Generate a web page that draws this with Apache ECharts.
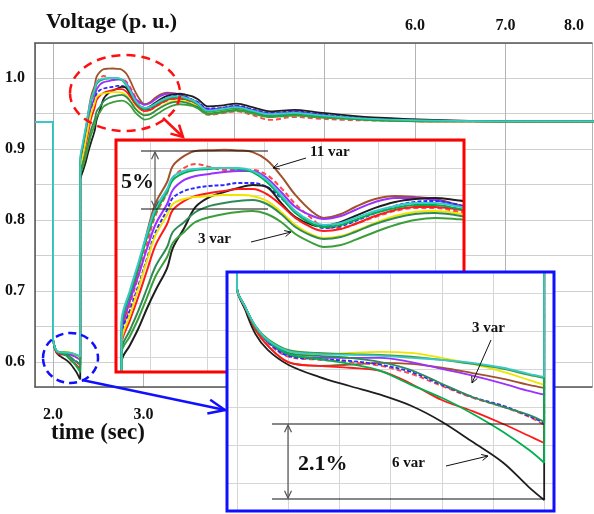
<!DOCTYPE html>
<html><head><meta charset="utf-8">
<script src="https://cdn.jsdelivr.net/npm/echarts@6/dist/echarts.min.js"></script>
<style>html,body{margin:0;padding:0;background:#fff}#c{width:594px;height:514px}</style>
</head><body><div id="c"></div>
<script>
// ---------------- data ----------------
const time = [1.80, 2.00,
  2.000, 2.008, 2.018, 2.030, 2.050, 2.080, 2.110, 2.140, 2.170, 2.200, 2.230, 2.260, 2.285, 2.300,
  2.30, 2.33, 2.36, 2.39, 2.42, 2.46, 2.48, 2.52, 2.56, 2.61, 2.66, 2.71, 2.76, 2.81, 2.86, 2.91, 2.97, 3.01, 3.07, 3.12, 3.19, 3.26, 3.33, 3.40, 3.47, 3.54,
  3.60, 3.71, 3.85, 4.03, 4.20, 4.40, 4.67, 4.90, 5.20, 5.60, 6.20, 7.00, 8.00];

const vBrown = [0.938, 0.938,
  .6313,.6261,.6203,.6161,.6118,.6108,.6111,.6116,.6113,.6103,.6089,.6074,.6058,.6050,
  .8756,.9022,.9259,.9526,.9741,.9896,1.0015,1.0089,1.0126,1.0131,1.0134,1.0130,1.0117,1.0059,.9941,.9800,.9674,.9630,.9659,.9711,.9770,.9793,.9785,.9770,.9733,.9689,
  .965,.955,.957,.960,.955,.950,.952,.949,.945,.942,.940,.939,.939];
const vRedDash = [0.938, 0.938,
  .6313,.6263,.6208,.6168,.6132,.6124,.6118,.6108,.6087,.6055,.6024,.6000,.5974,.5953,
  .8726,.8985,.9207,.9444,.9652,.9815,.9926,1.0000,1.0030,1.0007,.9985,.9985,.9985,.9948,.9852,.9733,.9622,.9563,.9556,.9585,.9637,.9681,.9704,.9704,.9681,.9652,
  .959,.948,.950,.953,.948,.941,.945,.943,.941,.940,.939,.939,.939];
const vPurple = [0.938, 0.938,
  .6313,.6263,.6211,.6171,.6137,.6129,.6129,.6129,.6118,.6100,.6082,.6061,.6042,.6032,
  .8800,.9022,.9207,.9407,.9585,.9733,.9837,.9911,.9941,.9956,.9970,.9978,.9978,.9926,.9822,.9711,.9644,.9622,.9644,.9689,.9748,.9778,.9778,.9763,.9726,.9689,
  .965,.956,.957,.960,.955,.950,.952,.949,.945,.942,.940,.939,.939];
const vBlueDash = [0.938, 0.938,
  .6313,.6263,.6211,.6171,.6134,.6126,.6121,.6111,.6092,.6058,.6026,.6003,.5976,.5958,
  .8763,.8948,.9133,.9333,.9526,.9689,.9778,.9830,.9852,.9867,.9874,.9889,.9889,.9859,.9778,.9674,.9585,.9556,.9570,.9607,.9667,.9719,.9748,.9756,.9733,.9696,
  .966,.957,.958,.961,.956,.951,.953,.950,.946,.943,.940,.939,.939];
const vBlack = [0.938, 0.938,
  .6313,.6255,.6192,.6150,.6111,.6079,.6055,.6032,.6003,.5961,.5908,.5853,.5789,.5755,
  .8563,.8689,.8815,.8963,.9096,.9259,.9407,.9556,.9711,.9785,.9822,.9852,.9874,.9859,.9741,.9637,.9578,.9570,.9600,.9644,.9704,.9748,.9770,.9778,.9763,.9741,
  .970,.960,.961,.964,.959,.953,.955,.952,.948,.944,.941,.939,.939];
const vRed = [0.938, 0.938,
  .6313,.6261,.6205,.6161,.6118,.6108,.6103,.6095,.6061,.6018,.5989,.5955,.5924,.5905,
  .8689,.8874,.9052,.9244,.9430,.9585,.9689,.9756,.9793,.9815,.9830,.9844,.9844,.9807,.9726,.9630,.9556,.9533,.9548,.9585,.9644,.9689,.9711,.9711,.9696,.9667,
  .962,.952,.954,.957,.952,.947,.949,.946,.944,.941,.939,.939,.939];
const vYellow = [0.938, 0.938,
  .6313,.6263,.6211,.6174,.6145,.6137,.6142,.6145,.6142,.6129,.6113,.6092,.6071,.6058,
  .8711,.8911,.9111,.9319,.9504,.9652,.9733,.9770,.9785,.9793,.9800,.9800,.9793,.9756,.9674,.9578,.9504,.9481,.9496,.9533,.9593,.9644,.9674,.9681,.9667,.9637,
  .960,.951,.953,.956,.951,.946,.948,.946,.943,.941,.939,.939,.939];
const vDarkGreen = [0.938, 0.938,
  .6313,.6263,.6211,.6174,.6142,.6134,.6129,.6118,.6097,.6061,.6026,.6000,.5979,.5961,
  .8652,.8800,.8948,.9111,.9274,.9415,.9526,.9600,.9674,.9719,.9741,.9756,.9763,.9733,.9659,.9563,.9496,.9474,.9489,.9526,.9585,.9630,.9659,.9667,.9652,.9622,
  .959,.950,.952,.955,.951,.946,.948,.945,.943,.941,.939,.939,.939];
const vGreen3 = [0.938, 0.938,
  .6313,.6263,.6213,.6179,.6150,.6142,.6139,.6137,.6132,.6124,.6113,.6100,.6084,.6076,
  .8630,.8756,.8889,.9044,.9200,.9341,.9444,.9526,.9600,.9637,.9659,.9674,.9681,.9659,.9600,.9511,.9444,.9415,.9430,.9467,.9526,.9578,.9615,.9630,.9622,.9607,
  .957,.949,.951,.954,.950,.945,.947,.945,.943,.940,.939,.939,.939];
const vGreen = [0.938, 0.938,
  .6313,.6263,.6211,.6174,.6139,.6126,.6113,.6095,.6058,.6024,.5982,.5934,.5887,.5853,
  .8830,.9067,.9274,.9489,.9674,.9822,.9911,.9963,.9985,.9993,1.0000,.9993,.9970,.9896,.9785,.9667,.9585,.9563,.9578,.9615,.9667,.9704,.9726,.9726,.9704,.9674,
  .963,.953,.955,.958,.953,.948,.950,.947,.944,.941,.940,.939,.939];
const vCyan = [0.938, 0.938,
  .6313,.6263,.6213,.6176,.6147,.6139,.6137,.6134,.6129,.6124,.6116,.6103,.6087,.6079,
  .8859,.9096,.9304,.9519,.9704,.9844,.9933,.9978,.9993,1.0000,1.0000,1.0000,.9978,.9911,.9800,.9681,.9600,.9578,.9593,.9630,.9681,.9719,.9741,.9741,.9719,.9689,
  .964,.954,.956,.959,.954,.949,.951,.948,.945,.942,.940,.939,.939];

const yTickLabels = ['0.6', '0.7', '0.8', '0.9', '1.0'];
const xTickLabelsBottom = ['2.0', '3.0'];
const xTickLabelsTop = ['6.0', '7.0', '8.0'];

// ---------------- styles ----------------
const SERIF = '"Liberation Serif","DejaVu Serif",serif';
const defs = [
  {vals: vBrown, color: '#a0522d'},
  {vals: vRedDash, color: '#ff4848', dash: [5, 3]},
  {vals: vPurple, color: '#9b30ff'},
  {vals: vBlueDash, color: '#2a2aff', dash: [4, 2]},
  {vals: vBlack, color: '#1e1e1e'},
  {vals: vRed, color: '#ff1a1a'},
  {vals: vYellow, color: '#f0e400'},
  {vals: vDarkGreen, color: '#2e8b57'},
  {vals: vGreen3, color: '#3a9e3a'},
  {vals: vGreen, color: '#00b050'},
  {vals: vCyan, color: '#3cc8c8'}
];
const pairs = vals => time.map((t, i) => [t, vals[i]]);
const isTenth = v => Math.abs(v * 10 - Math.round(v * 10)) < 1e-6;

const panels = [
  {xi: 0, yi: 0, z: 2, w: 1.8},
  {xi: 2, yi: 1, z: 12, w: 2.0},
  {xi: 3, yi: 2, z: 22, w: 1.8}
];
const series = [];
panels.forEach(p => defs.forEach(d => series.push({
  type: 'line', xAxisIndex: p.xi, yAxisIndex: p.yi, data: pairs(d.vals),
  showSymbol: false, smooth: 0.35, z: p.z, silent: true, animation: false,
  lineStyle: {color: d.color, width: p.w, type: d.dash || 'solid'}
})));

function head(x1, y1, x2, y2, len, ang) {
  const a = Math.atan2(y2 - y1, x2 - x1);
  return [[x2 - len * Math.cos(a - ang), y2 - len * Math.sin(a - ang)], [x2, y2],
          [x2 - len * Math.cos(a + ang), y2 - len * Math.sin(a + ang)]];
}
function arrow(x1, y1, x2, y2, o) {
  const st = {stroke: o.c, lineWidth: o.w, fill: null};
  const els = [{type: 'line', z: o.z, silent: true, shape: {x1, y1, x2, y2}, style: {stroke: o.c, lineWidth: o.w}},
    {type: 'polyline', z: o.z, silent: true, shape: {points: head(x1, y1, x2, y2, o.len, o.ang || 0.45)}, style: st}];
  return els;
}
function txt(s, x, y, size, o) {
  o = o || {};
  return {type: 'text', x, y, z: o.z || 30, silent: true,
    style: {text: s, font: 'bold ' + size + 'px ' + SERIF, fill: o.fill || '#111',
      textAlign: o.align || 'left', textVerticalAlign: 'middle', verticalAlign: 'middle', align: o.align || 'left'}};
}
function hline(x1, x2, y, z) {
  return {type: 'line', z, silent: true, shape: {x1, y1: y, x2, y2: y}, style: {stroke: '#111', lineWidth: 1.2}};
}

const graphics = [
  {type: 'rect', z: 10, silent: true, shape: {x: 116, y: 140, width: 348, height: 232}, style: {fill: '#fff'}},
  {type: 'rect', z: 14, silent: true, shape: {x: 116, y: 140, width: 348, height: 232}, style: {fill: null, stroke: '#ff0000', lineWidth: 3}},
  {type: 'rect', z: 20, silent: true, shape: {x: 227, y: 272, width: 327, height: 239}, style: {fill: '#fff'}},
  {type: 'rect', z: 24, silent: true, shape: {x: 227, y: 272, width: 327, height: 239}, style: {fill: null, stroke: '#1010ff', lineWidth: 3}},
  {type: 'ellipse', z: 30, silent: true, shape: {cx: 125, cy: 93, rx: 55, ry: 38}, style: {fill: null, stroke: '#ff1010', lineWidth: 2.5, lineDash: [9, 6]}},
  {type: 'ellipse', z: 30, silent: true, shape: {cx: 70.5, cy: 358, rx: 27.5, ry: 25}, style: {fill: null, stroke: '#1010ff', lineWidth: 2.5, lineDash: [8, 5]}},
  ...arrow(163, 118, 183, 137, {c: '#ff1010', w: 2.5, len: 13, ang: 0.5, z: 30}),
  ...arrow(82, 380, 225, 410, {c: '#1010ff', w: 2.5, len: 18, ang: 0.4, z: 30}),
  txt('Voltage (p. u.)', 46, 22, 22),
  txt('time (sec)', 51, 433, 23),
  txt(xTickLabelsTop[2], 574, 26, 16, {align: 'center'}),
  hline(141, 268, 151, 14), hline(141, 268, 209, 14),
  ...arrow(155, 180, 155, 152, {c: '#555', w: 1.2, len: 8, ang: 0.45, z: 14}),
  ...arrow(155, 180, 155, 208, {c: '#555', w: 1.2, len: 8, ang: 0.45, z: 14}),
  txt('5%', 121, 182, 22, {z: 14}),
  txt('11 var', 310, 152, 15, {z: 14}),
  ...arrow(306, 158, 273, 168, {c: '#111', w: 1, len: 7, ang: 0.45, z: 14}),
  txt('3 var', 198, 239, 15, {z: 14}),
  ...arrow(251, 242, 291, 232, {c: '#111', w: 1, len: 7, ang: 0.45, z: 14}),
  hline(272, 544, 424, 24), hline(272, 544, 499, 24),
  ...arrow(288, 462, 288, 425, {c: '#555', w: 1.2, len: 8, ang: 0.45, z: 24}),
  ...arrow(288, 462, 288, 498, {c: '#555', w: 1.2, len: 8, ang: 0.45, z: 24}),
  txt('2.1%', 298, 464, 22, {z: 24}),
  txt('3 var', 472, 328, 15, {z: 24}),
  ...arrow(491, 340, 472, 383, {c: '#111', w: 1, len: 7, ang: 0.45, z: 24}),
  txt('6 var', 392, 463, 15, {z: 24}),
  ...arrow(446, 466, 488, 456, {c: '#111', w: 1, len: 7, ang: 0.45, z: 24})
];

const lblStyle = {fontFamily: SERIF, fontWeight: 'bold', fontSize: 16, color: '#111'};
const insetSplit = {show: true, lineStyle: {color: '#d6d6d6', width: 1}};
const hidden = {axisLine: {show: false}, axisTick: {show: false}, axisLabel: {show: false}};

const option = {
  animation: false,
  backgroundColor: '#fff',
  grid: [
    {left: 35, top: 43, width: 557, height: 344},
    {left: 116, top: 140, width: 348, height: 232, z: 11},
    {left: 227, top: 272, width: 327, height: 239, z: 21}
  ],
  xAxis: [
    {type: 'value', gridIndex: 0, position: 'bottom', min: 1.8, max: 7.955, splitNumber: 6,
      axisLine: {show: true, onZero: false, lineStyle: {color: '#555', width: 1.5}}, axisTick: {show: false},
      splitLine: {show: true, lineStyle: {color: '#b4b4b4', width: 1}},
      axisLabel: Object.assign({margin: 20, showMinLabel: false, showMaxLabel: false,
        formatter: v => (isTenth(v) && xTickLabelsBottom.includes(v.toFixed(1))) ? v.toFixed(1) : ''}, lblStyle)},
    {type: 'value', gridIndex: 0, position: 'top', min: 1.8, max: 7.955, splitNumber: 6,
      axisLine: {show: true, onZero: false, lineStyle: {color: '#555', width: 1.5}}, axisTick: {show: false},
      splitLine: {show: false},
      axisLabel: Object.assign({margin: 9, showMinLabel: false, showMaxLabel: false,
        formatter: v => (isTenth(v) && xTickLabelsTop.includes(v.toFixed(1))) ? v.toFixed(1) : ''}, lblStyle)},
    Object.assign({type: 'value', gridIndex: 1, min: 2.2807, max: 3.5018, splitNumber: 6, z: 11, splitLine: insetSplit}, hidden),
    Object.assign({type: 'value', gridIndex: 2, min: 1.9902, max: 2.3096, splitNumber: 6, z: 21, splitLine: insetSplit}, hidden)
  ],
  yAxis: [
    {type: 'value', gridIndex: 0, min: 0.5648, max: 1.0493, splitNumber: 10,
      axisLine: {show: true, lineStyle: {color: '#555', width: 1.5}}, axisTick: {show: false},
      splitLine: {show: true, lineStyle: {color: '#cfcfcf', width: 1}},
      axisLabel: Object.assign({margin: 10, showMinLabel: false, showMaxLabel: false,
        formatter: v => (isTenth(v) && yTickLabels.includes(v.toFixed(1))) ? v.toFixed(1) : ''}, lblStyle)},
    Object.assign({type: 'value', gridIndex: 1, min: 0.8489, max: 1.0207, splitNumber: 9, z: 11, splitLine: insetSplit}, hidden),
    Object.assign({type: 'value', gridIndex: 2, min: 0.5726, max: 0.6355, splitNumber: 6, z: 21, splitLine: insetSplit}, hidden)
  ],
  graphic: {elements: graphics},
  series: series
};

const chart = echarts.init(document.getElementById('c'), null, {renderer: 'canvas', width: 594, height: 514});
chart.setOption(option);
</script>
</body></html>
